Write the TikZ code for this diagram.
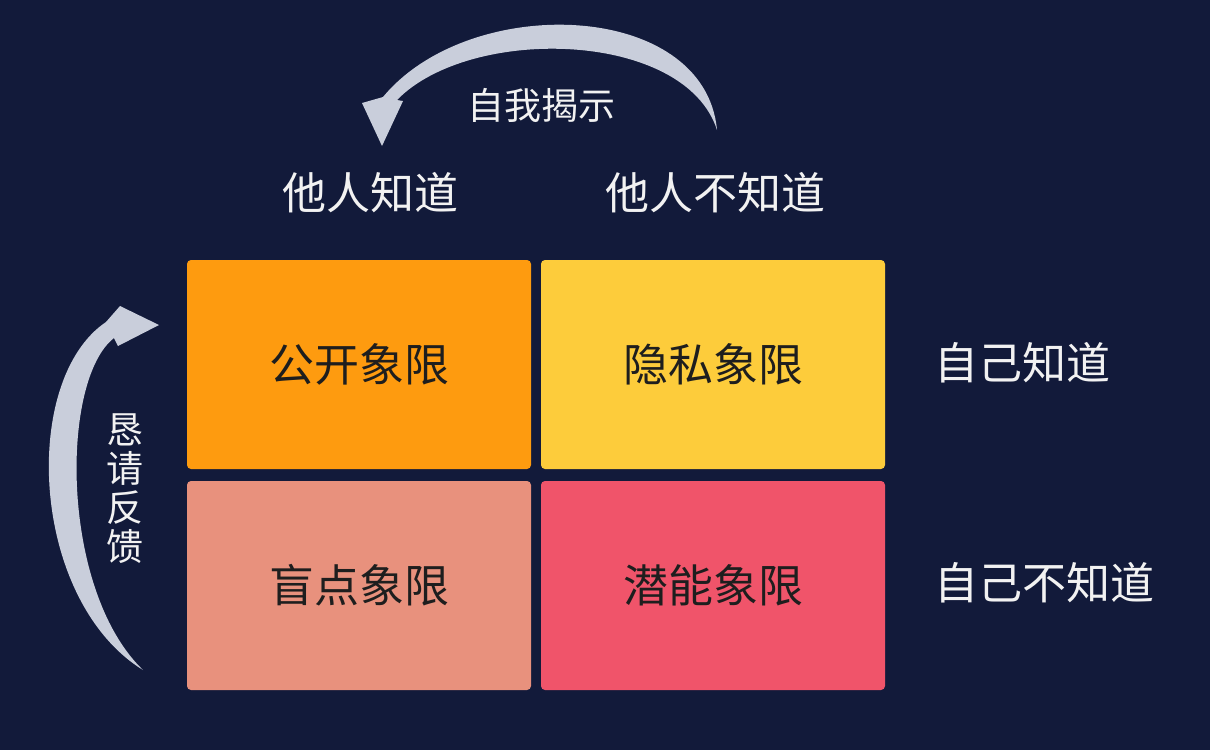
\documentclass[tikz,border=0pt]{standalone}
\usepackage{fontspec}
\setmainfont{Noto Sans CJK SC}
\usetikzlibrary{positioning}
\definecolor{bgnavy}{HTML}{121A3A}
\definecolor{qopen}{HTML}{FE9B0F}
\definecolor{qhidden}{HTML}{FDCC3B}
\definecolor{qblind}{HTML}{E8917D}
\definecolor{qpotential}{HTML}{F0546A}
\definecolor{swoosh}{HTML}{C9CEDB}
\definecolor{labelwhite}{HTML}{F2F2F2}
\definecolor{quadtext}{HTML}{1E1E1E}
\tikzset{
  quad/.style={rectangle,rounded corners=4pt,inner sep=0,minimum width=344pt,minimum height=209pt,
    text=quadtext,font=\fontsize{45}{45}\selectfont},
  hdr/.style={text=labelwhite,inner sep=0,font=\fontsize{44}{44}\selectfont},
  sidelbl/.style={text=labelwhite,inner sep=0,font=\fontsize{44}{44}\selectfont,anchor=west},
  arrowlbl/.style={text=labelwhite,inner sep=0,font=\fontsize{37}{37}\selectfont},
  swooshfill/.style={fill=swoosh,draw=none},
}
\begin{document}
\begin{tikzpicture}[x=1pt,y=-1pt]
% background
\fill[bgnavy] (0,0) rectangle (1210,750);
\useasboundingbox (0,0) rectangle (1210,750);
% quadrants
\node[quad,fill=qopen] (open) at (359,364.5) {公开象限};
\node[quad,fill=qhidden] (hidden) at (713,364.5) {隐私象限};
\node[quad,fill=qblind] (blind) at (359,585.5) {盲点象限};
\node[quad,fill=qpotential] (potential) at (713,585.5) {潜能象限};
% column and row headers
\node[hdr] (othersknow) at (370,193) {他人知道};
\node[hdr] (othersnot) at (715,193) {他人不知道};
\node[sidelbl] (selfknow) at (934,363) {自己知道};
\node[sidelbl] (selfnot) at (934,583) {自己不知道};
% self disclosure swoosh
\fill[swooshfill] (717,130) .. controls (705,0) and (470,-8) .. (383,97)
  -- (362,103) -- (382,146) -- (403,101) -- (397,100)
  .. controls (470,25) and (685,30) .. (717,130) -- cycle;
\node[arrowlbl] (disclose) at (541,105) {自我揭示};
% feedback swoosh
\fill[swooshfill] (143,670) .. controls (30,600) and (20,380) .. (106,322)
  -- (120,306) -- (159,325) -- (118,346) -- (114,338)
  .. controls (60,380) and (60,590) .. (143,670) -- cycle;
\node[arrowlbl,align=center,font=\fontsize{37}{39}\selectfont] (feedback) at (125,489) {恳\\请\\反\\馈};
\end{tikzpicture}
\end{document}
